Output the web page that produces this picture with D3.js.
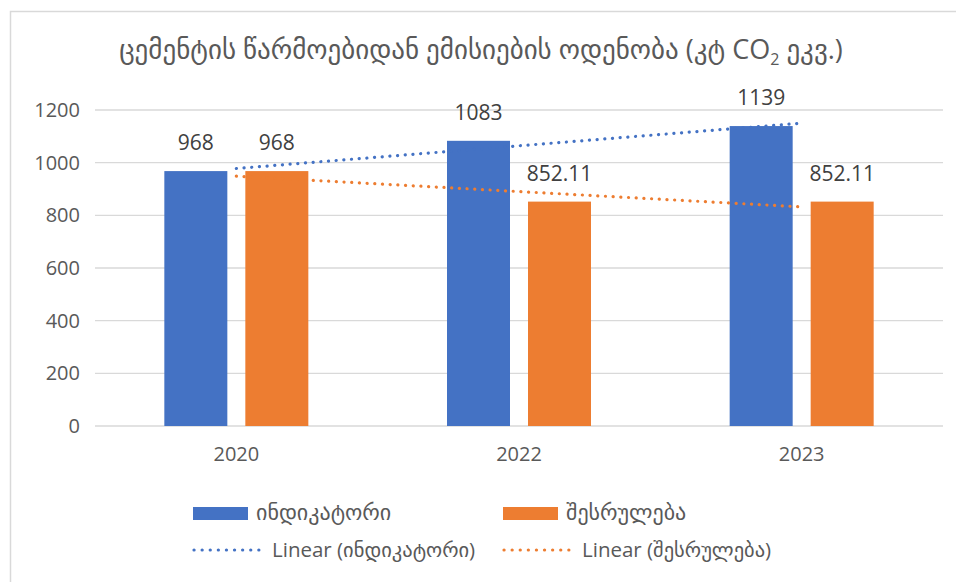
<!DOCTYPE html>
<html><head><meta charset="utf-8">
<script src="https://cdn.jsdelivr.net/npm/d3@7"></script>
<style>
html,body{margin:0;padding:0;background:#fff;}
svg{display:block;font-family:"Open Sans","DejaVu Sans",sans-serif;}
</style></head>
<body>
<svg id="chart" width="956" height="582"></svg>
<script>
const categories = ["2020", "2022", "2023"];
const indicatorValues = [968, 1083, 1139];
const performanceValues = [968, 852.11, 852.11];
const labelsIndicator = ["968", "1083", "1139"];
const labelsPerformance = ["968", "852.11", "852.11"];
const yTicks = [0, 200, 400, 600, 800, 1000, 1200];
const seriesNames = ["ინდიკატორი", "შესრულება"];
const trendNames = ["Linear (ინდიკატორი)", "Linear (შესრულება)"];
const titleMain = "ცემენტის წარმოებიდან ემისიების ოდენობა (კტ CO";
const titleSub = "2";
const titleEnd = " ეკვ.)";
const colors = ["#4472C4", "#ED7D31"];

const svg = d3.select("#chart");
const textColor = "#595959";

// chart border
svg.append("rect").attr("x", 10.5).attr("y", 11.5).attr("width", 960).attr("height", 600)
  .attr("fill", "#fff").attr("stroke", "#d9d9d9").attr("stroke-width", 1.5);

const plot = {left: 95, right: 943, top: 110, bottom: 426};
const x = d3.scaleBand().domain(categories).range([plot.left, plot.right]).padding(0);
const y = d3.scaleLinear().domain([0, 1200]).range([plot.bottom, plot.top]);

// gridlines
svg.append("g").selectAll("line").data(yTicks).join("line")
  .attr("x1", plot.left).attr("x2", plot.right)
  .attr("y1", d => y(d)).attr("y2", d => y(d))
  .attr("stroke", "#d9d9d9").attr("stroke-width", 1.3);

// y axis labels
const yAxis = d3.axisLeft(y).tickValues(yTicks).tickFormat(d3.format("d")).tickSize(0).tickPadding(0);
const yg = svg.append("g").attr("transform", `translate(80,0)`).call(yAxis);
yg.select(".domain").remove();
yg.selectAll("text").attr("fill", textColor).style("font-size", "20px")
  .style("font-family", "'Open Sans','DejaVu Sans',sans-serif");

// x axis labels
const xAxis = d3.axisBottom(x).tickSize(0).tickPadding(0);
const xg = svg.append("g").attr("transform", `translate(0,447)`).call(xAxis);
xg.select(".domain").remove();
xg.selectAll("text").attr("fill", textColor).style("font-size", "20px")
  .style("font-family", "'Open Sans','DejaVu Sans',sans-serif");

// bars
const barW = 63, gap = 18;
const inner = d3.scaleBand().domain([0, 1]).range([0, barW * 2 + gap]).paddingInner(gap / (barW + gap));
const offset = (x.bandwidth() - (barW * 2 + gap)) / 2;
const seriesData = [indicatorValues, performanceValues];
const labelData = [labelsIndicator, labelsPerformance];
seriesData.forEach((vals, s) => {
  svg.append("g").selectAll("rect").data(vals).join("rect")
    .attr("x", (d, i) => x(categories[i]) + offset + inner(s))
    .attr("width", inner.bandwidth())
    .attr("y", d => y(d)).attr("height", d => y(0) - y(d))
    .attr("fill", colors[s]);
  svg.append("g").selectAll("text").data(vals).join("text")
    .attr("x", (d, i) => x(categories[i]) + offset + inner(s) + inner.bandwidth() / 2)
    .attr("y", d => y(d) - 21)
    .attr("text-anchor", "middle").attr("fill", "#404040")
    .style("font-size", "21px")
    .text((d, i) => labelData[s][i]);
});

// linear trendlines (least squares on category index)
function linFit(vals) {
  const xs = vals.map((_, i) => i + 1);
  const mx = d3.mean(xs), my = d3.mean(vals);
  const b = d3.sum(xs.map((xv, i) => (xv - mx) * (vals[i] - my))) / d3.sum(xs.map(xv => (xv - mx) ** 2));
  const a = my - b * mx;
  return xs.map(xv => a + b * xv);
}
const line = d3.line().x(d => d[0]).y(d => y(d[1]));
seriesData.forEach((vals, s) => {
  const fit = linFit(vals);
  const pts = [[x(categories[0]) + x.bandwidth() / 2, fit[0]],
               [x(categories[categories.length - 1]) + x.bandwidth() / 2 - 4, fit[fit.length - 1]]];
  svg.append("path").attr("d", line(pts)).attr("fill", "none")
    .attr("stroke", colors[s]).attr("stroke-width", 3.2)
    .attr("stroke-linecap", "round").attr("stroke-dasharray", "0.1 7.6");
});

// title
const title = svg.append("text").attr("x", 481).attr("y", 59).attr("text-anchor", "middle")
  .attr("fill", textColor).style("font-size", "27px");
title.append("tspan").text(titleMain);
title.append("tspan").attr("dy", 6).style("font-size", "16px").text(titleSub);
title.append("tspan").attr("dy", -6).text(titleEnd);

// legend
const legend = svg.append("g");
const legRow1 = [{x: 193, c: colors[0], t: seriesNames[0]}, {x: 503, c: colors[1], t: seriesNames[1]}];
legRow1.forEach(d => {
  legend.append("rect").attr("x", d.x).attr("y", 507).attr("width", 55).attr("height", 13).attr("fill", d.c);
  legend.append("text").attr("x", d.x + 63).attr("y", 520).attr("fill", textColor)
    .style("font-size", "22px").text(d.t);
});
const legRow2 = [{x: 193, c: colors[0], t: trendNames[0]}, {x: 503, c: colors[1], t: trendNames[1]}];
legRow2.forEach(d => {
  legend.append("line").attr("x1", d.x + 1).attr("x2", d.x + 66).attr("y1", 550).attr("y2", 550)
    .attr("stroke", d.c).attr("stroke-width", 3.2).attr("stroke-linecap", "round").attr("stroke-dasharray", "0.1 8");
  legend.append("text").attr("x", d.x + 79).attr("y", 557).attr("fill", textColor)
    .style("font-size", "20.5px").text(d.t);
});
</script>
</body></html>
